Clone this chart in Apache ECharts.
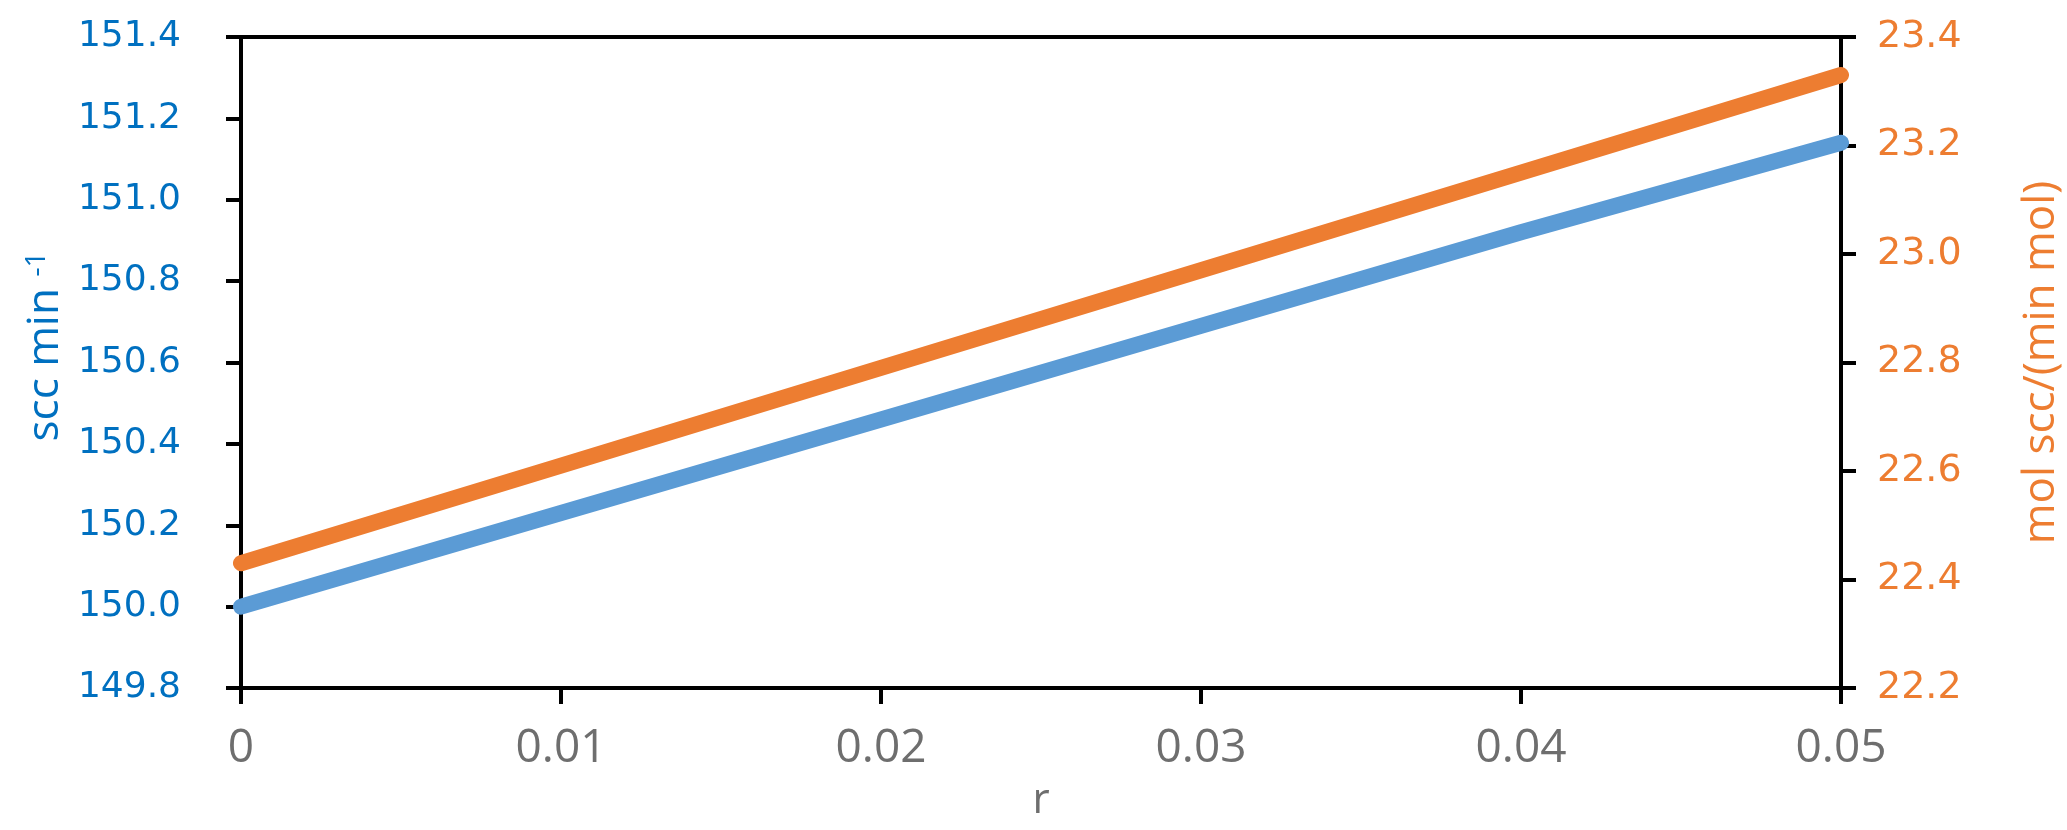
<!DOCTYPE html>
<html>
<head>
<meta charset="utf-8">
<script src="https://cdn.jsdelivr.net/npm/echarts@6/dist/echarts.min.js"></script>
<style>
  html, body { margin: 0; padding: 0; background: #fff; }
  #chart-box { width: 2067px; height: 830px; }
</style>
</head>
<body>
<div id="chart-box"></div>
<script>
// r values (x axis)
const rValues = [0, 0.01, 0.02, 0.03, 0.04, 0.05]
// left axis series, scc min^-1
const sccPerMin = [150.00, 150.23, 150.46, 150.69, 150.92, 151.14]
// right axis series, mol scc/(min mol)
const molScc = [22.43, 22.61, 22.79, 22.97, 23.15, 23.33]

const blue = '#5B9BD5'
const orange = '#ED7D31'
const textFont = '"Open Sans", sans-serif'

let chart = echarts.init(document.getElementById('chart-box'))
let option = {
    animation: false,
    grid: {
        left: 241, right: 226, top: 37, bottom: 142,
        outerBoundsMode: 'none',
        show: true, borderColor: '#000', borderWidth: 4
    },
    xAxis: {
        type: 'value',
        min: 0, max: 0.05, interval: 0.01,
        name: 'r',
        nameLocation: 'middle',
        nameGap: 92,
        nameTextStyle: {color: '#6E6E6E', fontSize: 42, fontFamily: textFont},
        axisLine: {lineStyle: {color: '#000', width: 4}},
        axisTick: {show: true, length: 16, lineStyle: {color: '#000', width: 4}},
        axisLabel: {
            color: '#6E6E6E', fontSize: 46, fontFamily: textFont, margin: 38,
            formatter: v => v === 0 ? '0' : v.toFixed(2)
        },
        splitLine: {show: false}
    },
    yAxis: [
        {
            type: 'value',
            min: 149.8, max: 151.4, interval: 0.2,
            position: 'left',
            name: 'scc min {sup|-1}',
            nameLocation: 'middle',
            nameGap: 164,
            nameRotate: 90,
            nameTextStyle: {
                color: '#0070C0', fontSize: 44, fontFamily: textFont,
                padding: [0, 0, 0, 32],
                rich: {sup: {color: '#0070C0', fontSize: 28, fontFamily: textFont, verticalAlign: 'top', padding: [0, 0, 16, 0]}}
            },
            axisLine: {show: true, lineStyle: {color: '#000', width: 4}},
            axisTick: {show: true, length: 15, lineStyle: {color: '#000', width: 4}},
            axisLabel: {
                color: '#0070C0', fontSize: 36, fontFamily: 'DejaVu Sans', margin: 60,
                formatter: v => v.toFixed(1)
            },
            splitLine: {show: false}
        },
        {
            type: 'value',
            min: 22.2, max: 23.4, interval: 0.2,
            position: 'right',
            name: 'mol scc/(min mol)',
            nameLocation: 'middle',
            nameGap: 178,
            nameRotate: 90,
            nameTextStyle: {color: orange, fontSize: 44, fontFamily: textFont},
            axisLine: {show: true, lineStyle: {color: '#000', width: 4}},
            axisTick: {show: true, length: 15, lineStyle: {color: '#000', width: 4}},
            axisLabel: {
                color: orange, fontSize: 38, fontFamily: 'DejaVu Sans', margin: 36,
                formatter: v => v.toFixed(1)
            },
            splitLine: {show: false}
        }
    ],
    series: [
        {
            type: 'line',
            yAxisIndex: 0,
            data: rValues.map((r, i) => [r, sccPerMin[i]]),
            symbol: 'none',
            lineStyle: {color: blue, width: 16, cap: 'round'}
        },
        {
            type: 'line',
            yAxisIndex: 1,
            data: rValues.map((r, i) => [r, molScc[i]]),
            symbol: 'none',
            lineStyle: {color: orange, width: 16, cap: 'round'}
        }
    ]
}
chart.setOption(option)
</script>
</body>
</html>
